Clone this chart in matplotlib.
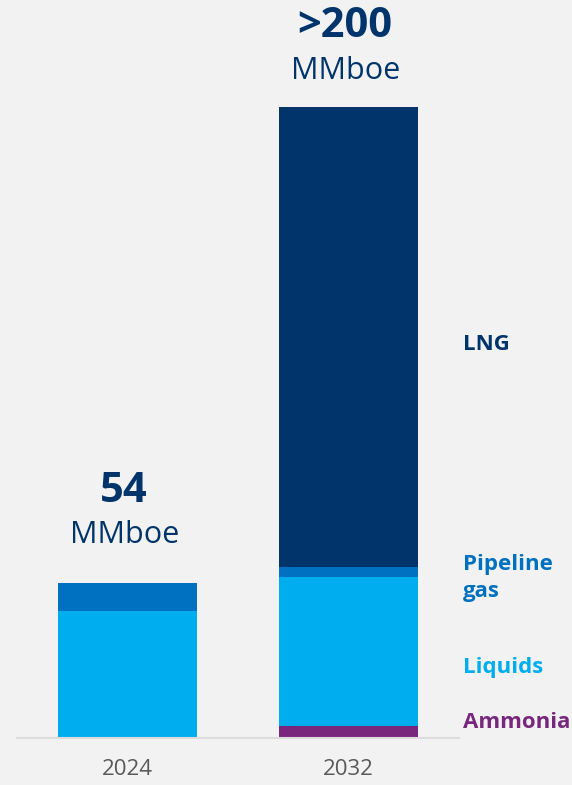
import numpy as np
import matplotlib
matplotlib.use("Agg")
import matplotlib.pyplot as plt

plt.rcParams['font.family'] = ['Open Sans', 'DejaVu Sans']

# data (MMboe)
years = ["2024", "2032"]
ammonia = [0, 4]
liquids = [44, 52]
pipeline = [10, 3.5]
lng = [0, 160]
totals = ["54", ">200"]

segments = ["Ammonia", "Liquids", "Pipeline\ngas", "LNG"]
colors = ["#78277D", "#00AEEF", "#0070C0", "#00346A"]

bg = "#F2F2F2"
navy = "#00346A"

# layout in pixels
W, H = 572, 785
px_per_unit = 2.876
base_px = 738
ax_left, ax_right = 17, 459

fig = plt.figure(figsize=(W / 100, H / 100), dpi=100, facecolor=bg)
ax = fig.add_axes([ax_left / W, (H - base_px) / H, (ax_right - ax_left) / W, base_px / H])
ax.set_facecolor(bg)

x = np.arange(len(years))
bottom = np.zeros(len(years))
for vals, c in zip([ammonia, liquids, pipeline, lng], colors):
    ax.bar(x, vals, width=0.625, bottom=bottom, color=c, edgecolor="none", zorder=2)
    bottom += np.array(vals)

ax.set_xlim(-0.5, 1.5)
ax.set_ylim(0, base_px / px_per_unit)

for s in ["top", "right", "left"]:
    ax.spines[s].set_visible(False)
ax.spines["bottom"].set_color("#DCDCDC")
ax.spines["bottom"].set_linewidth(1.5)
ax.set_yticks([])
ax.set_xticks(x)
ax.set_xticklabels(years, fontsize=16, color="#595959")
ax.tick_params(axis="x", length=0, pad=15)


def ypx(p):
    return (base_px - p) / px_per_unit


# total labels above bars
total_y = [(502, 543), (37, 79)]
for i, (t, (y1, y2)) in enumerate(zip(totals, total_y)):
    xc = x[i] - 0.015
    ax.text(xc, ypx(y1), t, ha="center", va="baseline", fontsize=30,
            fontweight="bold", color=navy, clip_on=False)
    ax.text(xc, ypx(y2), "MMboe", ha="center", va="baseline", fontsize=22,
            color=navy, clip_on=False)

# segment labels on the right
label_y = [722, 667, 578, 345]
label_x = 1 + (462 - 348) / 220.7
for lab, c, yp in zip(segments, colors, label_y):
    ax.text(label_x, ypx(yp), lab, ha="left", va="center", fontsize=16,
            fontweight="bold", color=c, linespacing=1.4, clip_on=False)

fig.savefig("out.png", dpi=100, facecolor=bg)
